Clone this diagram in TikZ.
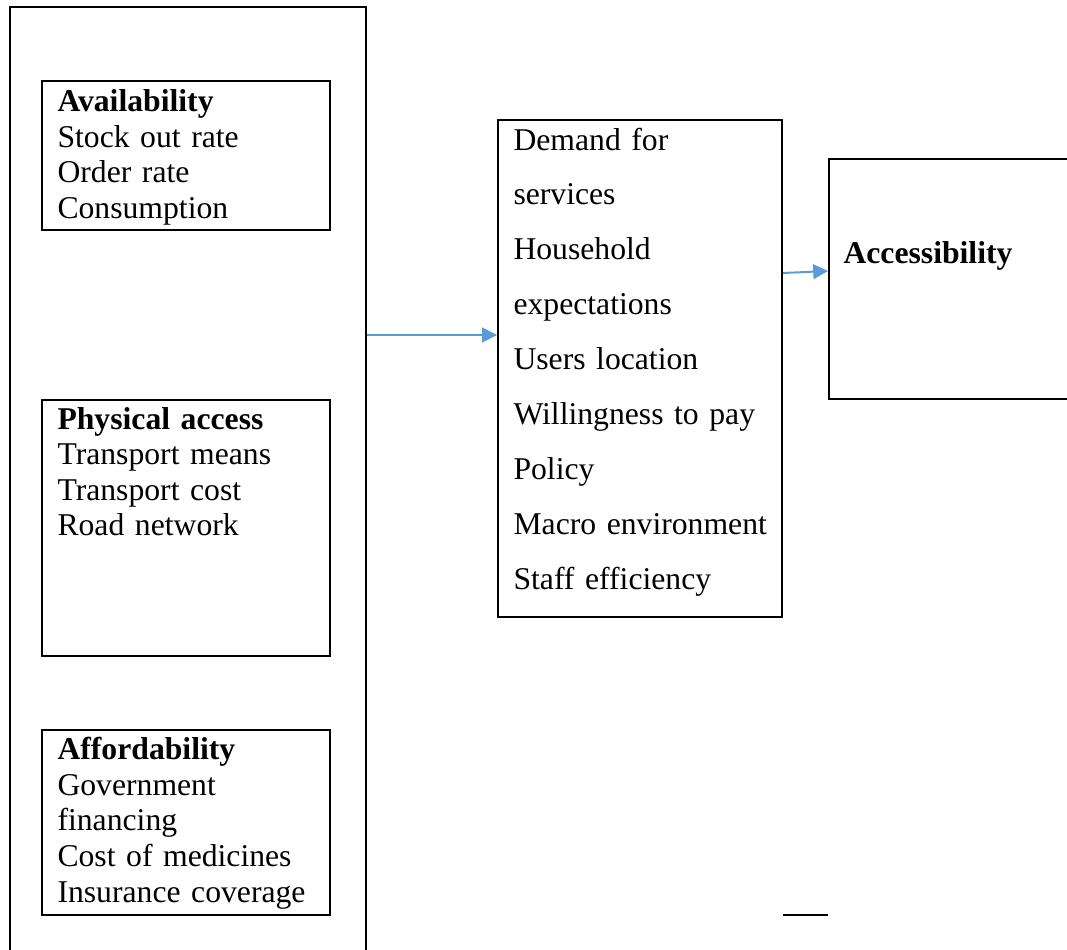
\documentclass[tikz,border=0pt]{standalone}
\usepackage{fontspec}
\setmainfont{Liberation Serif}
\usetikzlibrary{fit,arrows.meta}
\definecolor{linkblue}{HTML}{5B9BD5}
\tikzset{
  box/.style={draw, line width=0.75pt, inner sep=0pt},
  items/.style={anchor=base west, inner sep=0pt, text width=120pt, align=left,
    font=\fontsize{12}{13.5}\selectfont},
  spaced/.style={items, font=\fontsize{12}{20.8}\selectfont},
  link/.style={draw=linkblue, line width=0.75pt, -{Triangle[length=5.6pt,width=5.6pt]}}
}
\begin{document}
\begin{tikzpicture}[x=0.3788pt, y=-0.3788pt]
  \useasboundingbox (0,0) rectangle (1067,949);
  \clip (0,0) rectangle (1067,949);
  % Outer frame (runs off the bottom)
  \node[box, line width=0.8pt, fit={(10,7) (366,990)}] (frame) {};
  % Factor boxes
  \node[box, fit={(42,81) (330,230)}] (avail) {};
  \node[box, fit={(42,400) (330,656)}] (phys) {};
  \node[box, fit={(42,730) (330,915)}] (afford) {};
  \node[items] (availtxt) at (57,111.5) {\textbf{Availability}\\Stock out rate\\Order rate\\Consumption};
  \node[items] (phystxt) at (57,429) {\textbf{Physical access}\\Transport means\\Transport cost\\Road network};
  \node[items] (affordtxt) at (57,759.5) {\textbf{Affordability}\\Government\\financing\\Cost of medicines\\Insurance coverage};
  % Demand side box
  \node[box, fit={(498,120) (782,617)}] (demand) {};
  \node[spaced] (demandtxt) at (513,150) {Demand for\\services\\Household\\expectations\\Users location\\Willingness to pay\\Policy\\Macro environment\\Staff efficiency};
  % Outcome box (runs off the right)
  \node[box, fit={(829,159) (1100,399)}] (acc) {};
  \node[items] (acctxt) at (843,263) {\textbf{Accessibility}};
  % Arrows
  \draw[link] (frame.east |- 0,335) -- (demand.west |- 0,335);
  \draw[link] (demand.east |- 0,273) -- (acc.west |- 0,271);
  % Stray rule under the boxes
  \draw[line width=0.9pt] (demand.east |- 0,915) -- (acc.west |- 0,915);
\end{tikzpicture}
\end{document}
